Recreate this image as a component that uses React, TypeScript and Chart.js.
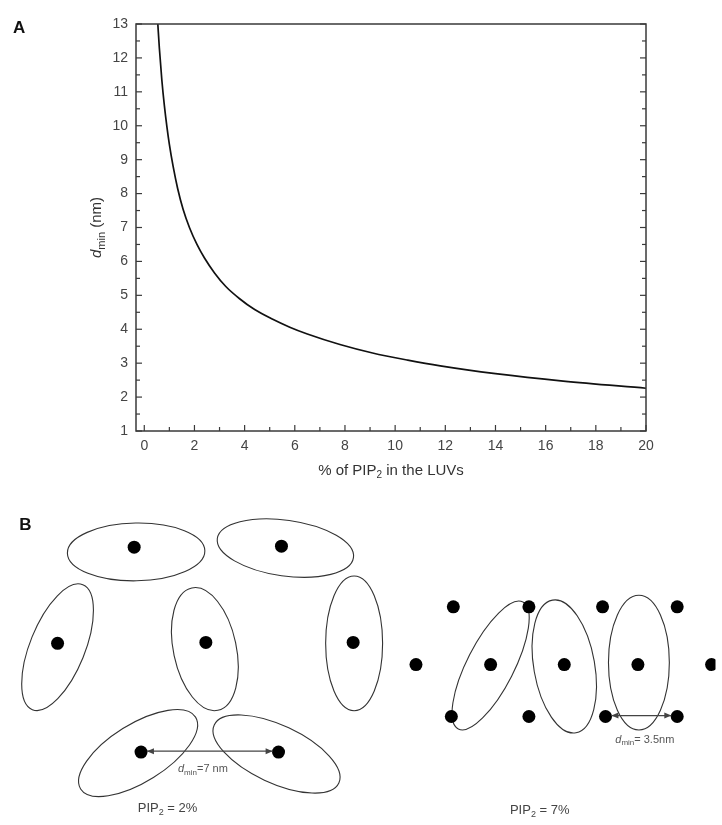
import React, { useEffect, useRef } from "react";
import { Chart, registerables } from "chart.js";
Chart.register(...registerables);

// ---------- Panel A data ----------
const pipPercent = [0.54, 0.6, 0.7, 0.8, 0.9, 1.0, 1.15, 1.33, 1.55, 1.8, 2.1, 2.4, 2.8, 3.25, 3.8, 4.4, 5.1, 5.8, 6.5, 7.8, 9.1, 10.5, 11.8, 14, 16.7, 20];
const dMin = [13.0, 12.3, 11.35, 10.6, 9.98, 9.45, 8.8, 8.15, 7.53, 7.0, 6.5, 6.1, 5.66, 5.26, 4.9, 4.58, 4.3, 4.06, 3.86, 3.55, 3.3, 3.09, 2.92, 2.69, 2.47, 2.26];
const xTickValues = [0, 2, 4, 6, 8, 10, 12, 14, 16, 18, 20];
const yTickValues = [1, 2, 3, 4, 5, 6, 7, 8, 9, 10, 11, 12, 13];
const X_MIN = -0.33;
const X_MAX = 20;
const Y_MIN = 1;
const Y_MAX = 13;

// ---------- Panel B data (diagram units) ----------
const dotsX = [130, 280, 52, 203, 353, 137, 277, 455, 532, 607, 683, 417, 493, 568, 643, 718, 453, 532, 610, 683];
const dotsY = [543, 542, 643, 642, 642, 756, 756, 605, 605, 605, 605, 665, 665, 665, 665, 665, 719, 719, 719, 719];
const ellipseCX = [132, 284, 52, 202, 354, 134, 275, 493, 568, 644];
const ellipseCY = [548, 544, 647, 649, 643, 757, 758, 666, 667, 663];
const ellipseRX = [70, 70, 28, 32, 29, 69, 70, 24, 31, 31];
const ellipseRY = [30, 29, 70, 65, 70, 30, 30, 74, 70, 70];
const ellipseRot = [-1, 8, 22, -12, 0, -32, 25, 27, -10, 0];
const arrowX1 = [143, 616];
const arrowX2 = [271, 677];
const arrowY = [755, 718];
const distLabelX = [200, 650];
const distLabelY = [774, 743];
const distLabelText = ["=7 nm", "= 3.5nm"];
const pipLabelX = [164, 543];
const pipLabelY = [815, 817];
const pipLabelText = [" = 2%", " = 7%"];

const FONT = "'Liberation Sans', Arial, sans-serif";

type Part = { t: string; italic?: boolean; sub?: boolean };

function drawParts(ctx: CanvasRenderingContext2D, parts: Part[], cx: number, cy: number, size: number, subSize: number) {
  const fontOf = (p: Part) => `${p.italic ? "italic " : ""}${p.sub ? subSize : size}px ${FONT}`;
  let total = 0;
  const widths = parts.map((p) => {
    ctx.font = fontOf(p);
    const w = ctx.measureText(p.t).width;
    total += w;
    return w;
  });
  let x = cx - total / 2;
  ctx.textAlign = "left";
  ctx.textBaseline = "middle";
  parts.forEach((p, i) => {
    ctx.font = fontOf(p);
    ctx.fillText(p.t, x, cy + (p.sub ? size * 0.3 : 0));
    x += widths[i];
  });
}

const frameTicksPlugin = {
  id: "frameTicks",
  afterDraw(chart: any) {
    const { ctx, chartArea: a, scales } = chart;
    const x = scales.x;
    const y = scales.y;
    ctx.save();
    ctx.strokeStyle = "#3a3a3a";
    ctx.lineWidth = 1.5;
    ctx.strokeRect(a.left, a.top, a.right - a.left, a.bottom - a.top);
    ctx.lineWidth = 1.2;
    const seg = (x1: number, y1: number, x2: number, y2: number) => {
      ctx.beginPath();
      ctx.moveTo(x1, y1);
      ctx.lineTo(x2, y2);
      ctx.stroke();
    };
    xTickValues.forEach((v, i) => {
      const px = x.getPixelForValue(v);
      seg(px, a.bottom, px, a.bottom - 6);
      if (i < xTickValues.length - 1) {
        const m = x.getPixelForValue((v + xTickValues[i + 1]) / 2);
        seg(m, a.bottom, m, a.bottom - 4);
      }
    });
    yTickValues.forEach((v, i) => {
      const py = y.getPixelForValue(v);
      seg(a.left, py, a.left + 6, py);
      seg(a.right, py, a.right - 6, py);
      if (i < yTickValues.length - 1) {
        const m = y.getPixelForValue((v + yTickValues[i + 1]) / 2);
        seg(a.left, m, a.left + 4, m);
        seg(a.right, m, a.right - 4, m);
      }
    });
    ctx.fillStyle = "#333";
    drawParts(ctx, [{ t: "% of PIP" }, { t: "2", sub: true }, { t: " in the LUVs" }], (a.left + a.right) / 2, a.bottom + 40, 15, 10);
    ctx.save();
    ctx.translate(a.left - 39, (a.top + a.bottom) / 2);
    ctx.rotate(-Math.PI / 2);
    drawParts(ctx, [{ t: "d", italic: true }, { t: "min", sub: true }, { t: " (nm)" }], 0, 0, 15, 11);
    ctx.restore();
    ctx.fillStyle = "#111";
    ctx.font = `bold 17px ${FONT}`;
    ctx.textAlign = "left";
    ctx.textBaseline = "top";
    ctx.fillText("A", 13, 20);
    ctx.restore();
  },
};

const diagramPlugin = {
  id: "diagram",
  beforeDatasetsDraw(chart: any) {
    const { ctx, scales } = chart;
    const x = scales.x;
    const y = scales.y;
    ctx.save();
    ctx.strokeStyle = "#333";
    ctx.lineWidth = 1.1;
    ellipseCX.forEach((cx, i) => {
      const px = x.getPixelForValue(cx);
      const py = y.getPixelForValue(ellipseCY[i]);
      const rx = Math.abs(x.getPixelForValue(cx + ellipseRX[i]) - px);
      const ry = Math.abs(y.getPixelForValue(ellipseCY[i] + ellipseRY[i]) - py);
      ctx.beginPath();
      ctx.ellipse(px, py, rx, ry, (ellipseRot[i] * Math.PI) / 180, 0, Math.PI * 2);
      ctx.stroke();
    });
    ctx.restore();
  },
  afterDatasetsDraw(chart: any) {
    const { ctx, scales } = chart;
    const x = scales.x;
    const y = scales.y;
    ctx.save();
    ctx.strokeStyle = "#444";
    ctx.fillStyle = "#444";
    ctx.lineWidth = 1.2;
    arrowX1.forEach((ax, i) => {
      const x1 = x.getPixelForValue(ax);
      const x2 = x.getPixelForValue(arrowX2[i]);
      const py = y.getPixelForValue(arrowY[i]);
      ctx.beginPath();
      ctx.moveTo(x1, py);
      ctx.lineTo(x2, py);
      ctx.stroke();
      ctx.beginPath();
      ctx.moveTo(x1, py);
      ctx.lineTo(x1 + 7, py - 3);
      ctx.lineTo(x1 + 7, py + 3);
      ctx.closePath();
      ctx.fill();
      ctx.beginPath();
      ctx.moveTo(x2, py);
      ctx.lineTo(x2 - 7, py - 3);
      ctx.lineTo(x2 - 7, py + 3);
      ctx.closePath();
      ctx.fill();
    });
    ctx.fillStyle = "#555";
    distLabelX.forEach((lx, i) => {
      drawParts(ctx, [{ t: "d", italic: true }, { t: "min", sub: true }, { t: distLabelText[i] }], x.getPixelForValue(lx), y.getPixelForValue(distLabelY[i]), 11, 8);
    });
    ctx.fillStyle = "#444";
    pipLabelX.forEach((lx, i) => {
      drawParts(ctx, [{ t: "PIP" }, { t: "2", sub: true }, { t: pipLabelText[i] }], x.getPixelForValue(lx), y.getPixelForValue(pipLabelY[i]), 13, 9);
    });
    ctx.fillStyle = "#111";
    ctx.font = `bold 17px ${FONT}`;
    ctx.textAlign = "left";
    ctx.textBaseline = "top";
    ctx.fillText("B", x.getPixelForValue(13), y.getPixelForValue(511));
    ctx.restore();
  },
};

export default function App() {
  const refA = useRef<HTMLCanvasElement>(null);
  const refB = useRef<HTMLCanvasElement>(null);

  useEffect(() => {
    document.body.style.margin = "0";
    Chart.defaults.font.family = FONT;
    const chartA = new Chart(refA.current!, {
      type: "line",
      data: {
        datasets: [
          {
            data: pipPercent.map((v, i) => ({ x: v, y: dMin[i] })),
            borderColor: "#111",
            borderWidth: 1.7,
            pointRadius: 0,
            cubicInterpolationMode: "monotone",
            fill: false,
          },
        ],
      },
      options: {
        responsive: false,
        animation: false,
        devicePixelRatio: 1,
        layout: { padding: { top: 24, right: 76, left: 0, bottom: 0 } },
        plugins: { legend: { display: false }, tooltip: { enabled: false } },
        scales: {
          x: {
            type: "linear",
            min: X_MIN,
            max: X_MAX,
            grid: { display: false, drawTicks: false },
            border: { display: false },
            ticks: { font: { size: 14 }, color: "#444", padding: 7, maxRotation: 0, autoSkip: false },
            afterBuildTicks: (s: any) => {
              s.ticks = xTickValues.map((v) => ({ value: v }));
            },
            afterFit: (s: any) => {
              s.height = 49;
            },
          },
          y: {
            type: "linear",
            min: Y_MIN,
            max: Y_MAX,
            grid: { display: false, drawTicks: false },
            border: { display: false },
            ticks: { font: { size: 14 }, color: "#444", padding: 8, autoSkip: false },
            afterBuildTicks: (s: any) => {
              s.ticks = yTickValues.map((v) => ({ value: v }));
            },
            afterFit: (s: any) => {
              s.width = 136;
            },
          },
        },
      } as any,
      plugins: [frameTicksPlugin],
    });

    const chartB = new Chart(refB.current!, {
      type: "scatter",
      data: {
        datasets: [
          {
            data: dotsX.map((v, i) => ({ x: v, y: dotsY[i] })),
            pointRadius: 6.5,
            pointHoverRadius: 6.5,
            backgroundColor: "#000",
            borderColor: "#000",
            borderWidth: 0,
          },
        ],
      },
      options: {
        responsive: false,
        animation: false,
        devicePixelRatio: 1,
        layout: { padding: 0 },
        plugins: { legend: { display: false }, tooltip: { enabled: false } },
        scales: {
          x: { type: "linear", display: false, min: 0, max: 722 },
          y: { type: "linear", display: false, min: 480, max: 825, reverse: true },
        },
      } as any,
      plugins: [diagramPlugin],
    });

    return () => {
      chartA.destroy();
      chartB.destroy();
    };
  }, []);

  return (
    <div style={{ width: 722, height: 825, background: "#fff" }}>
      <canvas ref={refA} width={722} height={480} style={{ display: "block" }} />
      <canvas ref={refB} width={722} height={345} style={{ display: "block" }} />
    </div>
  );
}
